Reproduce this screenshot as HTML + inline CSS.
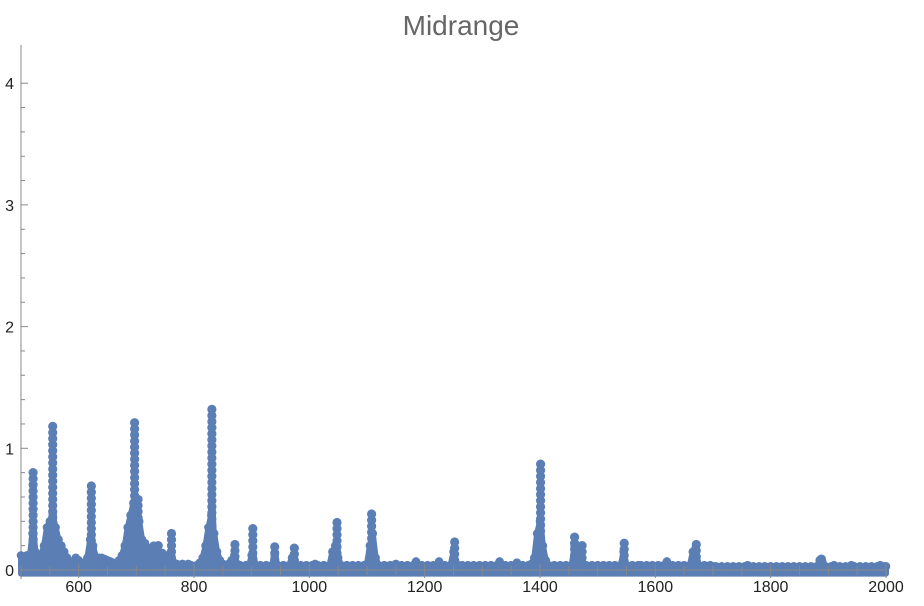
<!DOCTYPE html>
<html><head><meta charset="utf-8"><style>
body{margin:0;background:#fff;}
svg{display:block;font-family:"Liberation Sans",sans-serif;}
</style></head><body>
<svg id="chart" width="924" height="606" viewBox="0 0 924 606">
<text x="461" y="35" text-anchor="middle" font-size="28" fill="#666">Midrange</text>
<g id="axes"></g>
<g id="marks"></g>
</svg>
<script>
const xStart = 500, xStepSize = 5;
const series = [
.12,.10,.12,.10,.30,.15,.08,.12,.20,.35,.40,.45,.35,.25,.20,.15,.10,.07,.06,.10,
.08,.05,.06,.10,.25,.20,.10,.10,.10,.09,.08,.07,.06,.05,.08,.12,.20,.35,.45,.55,
.50,.40,.25,.22,.18,.15,.20,.12,.10,.14,.12,.08,.15,.06,.05,.04,.05,.04,.05,.04,
.03,.04,.06,.10,.20,.35,.45,.30,.15,.08,.05,.04,.05,.08,.12,.05,.04,.03,.04,.03,
.12,.04,.03,.04,.03,.04,.03,.04,.12,.04,.03,.04,.03,.04,.10,.04,.03,.04,.03,.04,
.03,.04,.05,.04,.03,.04,.03,.04,.15,.20,.10,.04,.03,.04,.03,.04,.03,.04,.03,.04,
.05,.20,.30,.10,.04,.03,.04,.03,.04,.03,.05,.03,.04,.03,.04,.03,.04,.07,.03,.04,
.03,.04,.03,.04,.03,.07,.03,.04,.03,.04,.15,.05,.03,.04,.03,.04,.03,.04,.03,.04,
.03,.04,.03,.04,.03,.04,.07,.03,.04,.03,.04,.03,.06,.03,.04,.03,.04,.05,.10,.30,
.40,.20,.08,.04,.03,.04,.03,.04,.03,.04,.03,.04,.20,.12,.15,.05,.04,.03,.04,.03,
.04,.03,.04,.03,.04,.03,.04,.03,.04,.15,.04,.03,.04,.03,.04,.04,.03,.04,.03,.04,
.03,.04,.03,.04,.07,.03,.04,.03,.04,.03,.04,.03,.04,.15,.18,.04,.03,.04,.03,.04,
.03,.03,.02,.03,.02,.03,.02,.03,.02,.03,.02,.03,.04,.02,.03,.02,.03,.02,.03,.02,
.03,.02,.03,.02,.03,.02,.03,.02,.03,.02,.03,.02,.03,.02,.03,.02,.03,.08,.06,.03,
.02,.03,.04,.02,.03,.02,.03,.02,.04,.03,.02,.03,.02,.03,.02,.03,.02,.03,.04,.03,
.03];
const peakX = [521,555,622,697,703,738,761,831,871,902,940,974,1048,1108,1252,1401,1460,1473,1546,1671,1888];
const peakY = [.80,1.18,.69,1.21,.58,.20,.30,1.32,.21,.34,.19,.18,.39,.46,.23,.87,.27,.20,.22,.21,.09];
const xTicks = [600,800,1000,1200,1400,1600,1800,2000];
const yTicks = [0,1,2,3,4];

const NS="http://www.w3.org/2000/svg";
const X0=21,X1=886,Y0=570,PPU=121.7;
const sx=v=>X0+(v-500)/1500*(X1-X0);
const sy=v=>Y0-v*PPU;
const axes=document.getElementById('axes'), marks=document.getElementById('marks');
function mk(tag,attrs,parent){const e=document.createElementNS(NS,tag);for(const k in attrs)e.setAttribute(k,attrs[k]);parent.appendChild(e);return e;}

let el=mk('line',{x1:X0,y1:45,x2:X0,y2:579,stroke:'#888','stroke-width':1},axes);


for(let v=0;v<=4.2;v+=0.2){const major=Math.abs(v-Math.round(v))<1e-6;
  mk('line',{x1:X0,y1:sy(v),x2:X0+(major?7:4),y2:sy(v),stroke:'#888'},axes);}
yTicks.forEach(v=>{const t=mk('text',{x:X0-7,y:sy(v)+6,'text-anchor':'end','font-size':16,fill:'#222'},axes);t.textContent=v;
  
  });
xTicks.forEach(v=>{const t=mk('text',{x:sx(v),y:592,'text-anchor':'middle','font-size':16,fill:'#222'},axes);t.textContent=v;
  
  });

const col='#5b7fb4';
const pts=series.map((v,i)=>[sx(xStart+i*xStepSize),sy(v)]);
// dense area under the series
const area=[[sx(500),sy(-0.03)]].concat(pts,[[sx(2000),sy(-0.03)]]);
el=mk('polygon',{points:area.map(p=>p.join(',')).join(' '),fill:col,stroke:col,'stroke-width':6,'stroke-linejoin':'round'},marks);


pts.forEach(p=>{const c=mk('circle',{cx:p[0],cy:p[1],r:4.3,fill:col},marks);
  
  });
peakX.forEach((px,i)=>{const x=sx(px),top=peakY[i];
  const l=mk('polygon',{points:[[x-5,sy(0)],[x-2.5,sy(top*0.35)],[x,sy(top)],[x+2.5,sy(top*0.35)],[x+5,sy(0)]].map(p=>p.join(',')).join(' '),fill:col,stroke:col,'stroke-width':3,'stroke-linejoin':'round'},marks);
  
  
  for(let v=top;v>0;v-=0.05){const c=mk('circle',{cx:x,cy:sy(v),r:4.6,fill:col},marks);
    
    }
});
// x axis drawn over marks
el=mk('line',{x1:X0,y1:Y0,x2:X1,y2:Y0,stroke:'#888','stroke-width':1},marks);


for(let v=500;v<=2000;v+=50){const major=v%200===0;
  mk('line',{x1:sx(v),y1:Y0-(major?6:4),x2:sx(v),y2:Y0+(major?8:5),stroke:'#888'},marks);}
</script>
</body></html>
